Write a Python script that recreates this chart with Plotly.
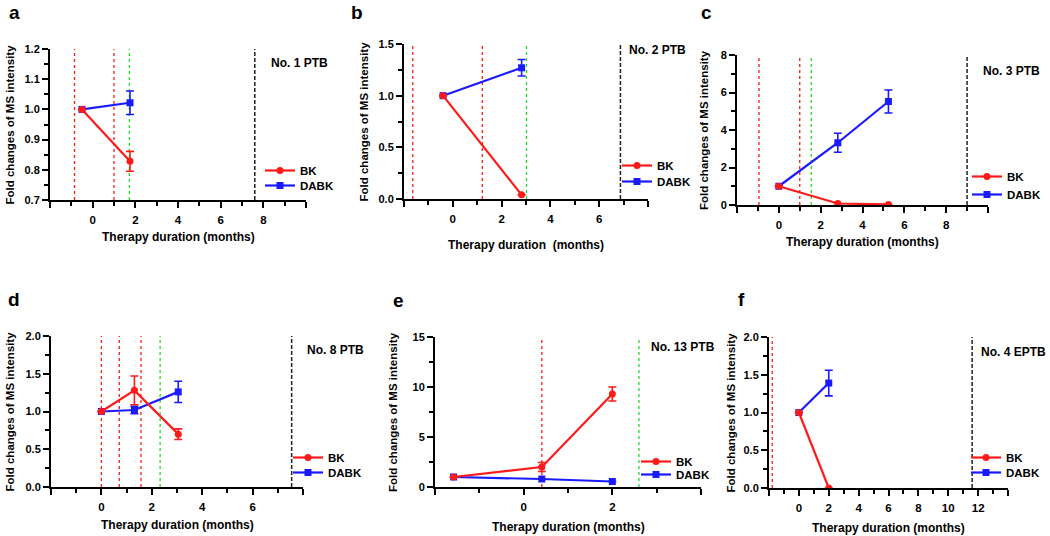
import plotly.graph_objects as go

W, H = 1050, 536

# ---------------- data ----------------
a_x = [-0.5, 1.75]
a_bk = [1.0, 0.828]
a_bk_err = [0.0, 0.033]
a_dabk = [1.0, 1.022]
a_dabk_err = [0.0, 0.039]
a_red = [-0.85, 1.0]
a_green = [1.72]
a_black = [7.6]

b_x = [-0.4, 2.82]
b_bk = [1.0, 0.04]
b_bk_err = [0.0, 0.0]
b_dabk = [1.0, 1.27]
b_dabk_err = [0.0, 0.08]
b_red = [-1.64, 1.21]
b_green = [3.02]
b_black = [6.87]

c_x = [0.0, 2.82, 5.24]
c_bk = [1.0, 0.08, 0.03]
c_bk_err = [0.0, 0.0, 0.0]
c_dabk = [1.0, 3.32, 5.52]
c_dabk_err = [0.0, 0.51, 0.61]
c_red = [-0.95, 1.0]
c_green = [1.55]
c_black = [9.0]

d_x = [0.0, 1.31, 3.05]
d_bk = [1.0, 1.28, 0.70]
d_bk_err = [0.0, 0.19, 0.07]
d_dabk = [1.0, 1.02, 1.26]
d_dabk_err = [0.0, 0.05, 0.14]
d_red = [0.0, 0.71, 1.57]
d_green = [2.33]
d_black = [7.55]

e_x = [-1.58, 0.41, 2.0]
e_bk = [1.0, 2.0, 9.3]
e_bk_err = [0.0, 0.45, 0.7]
e_dabk = [1.0, 0.8, 0.55]
e_dabk_err = [0.0, 0.0, 0.0]
e_red = [0.41]
e_green = [2.6]
e_black = []

f_x = [0.0, 2.0]
f_bk = [1.0, 0.0]
f_bk_err = [0.0, 0.0]
f_dabk = [1.0, 1.39]
f_dabk_err = [0.0, 0.17]
f_red = [-1.78]
f_green = []
f_black = [11.6]

panel_letters = ["a", "b", "c", "d", "e", "f"]
panel_names = ["No. 1 PTB", "No. 2 PTB", "No. 3 PTB", "No. 8 PTB", "No. 13 PTB", "No. 4 EPTB"]
series_names = ["BK", "DABK"]
x_ranges = [(-2, 10), (-2, 8), (-2, 10), (-2, 8), (-2, 4), (-2, 14)]
x_label_vals = [[0, 2, 4, 6, 8], [0, 2, 4, 6], [0, 2, 4, 6, 8], [0, 2, 4, 6], [0, 2],
                [0, 2, 4, 6, 8, 10, 12]]
y_ranges = [(0.7, 1.2), (0, 1.5), (0, 8), (0, 2), (0, 15), (0, 2)]
y_dticks = [0.1, 0.5, 2, 0.5, 5, 0.5]
y_formats = [".1f", ".1f", "d", ".1f", "d", ".1f"]

# ---------------- layout geometry (pixels) ----------------
# (left, right, top, bottom) of each plot area
boxes = [(50, 306, 49, 200), (404, 648, 44, 199), (737, 988, 55, 205),
         (51, 303, 336, 487), (435, 701, 337, 487), (769, 1008, 337, 488)]
letter_pos = [(14, 13), (357, 13), (706, 13), (14, 299), (398, 300), (741, 299)]
name_pos = [(299, 63), (657, 50), (1011, 71), (335, 350), (683, 347), (1013, 352)]
ytitle_x = [9, 363, 704, 9, 393, 730]
xtitle_y = [237, 245, 242, 525, 527, 528]
# text left x, BK text centre y, DABK text centre y
legend_pos = [(300, 168, 183), (657, 163, 179), (1007, 174, 192),
              (328, 455, 470), (676, 459, 472), (1006, 455, 470)]

RED = "#ff1a1a"
BLUE = "#1a1aff"
GREEN = "#22dd22"
FONT = "Liberation Sans, Arial, sans-serif"
LEG_TEXT_DX = 40   # legend x -> text start
LEG_TEXT_DY = 12   # legend top -> text centre


def px(x):
    return x / W


def py(y):
    return 1 - y / H


data = [
    (a_x, a_bk, a_bk_err, a_dabk, a_dabk_err, a_red, a_green, a_black),
    (b_x, b_bk, b_bk_err, b_dabk, b_dabk_err, b_red, b_green, b_black),
    (c_x, c_bk, c_bk_err, c_dabk, c_dabk_err, c_red, c_green, c_black),
    (d_x, d_bk, d_bk_err, d_dabk, d_dabk_err, d_red, d_green, d_black),
    (e_x, e_bk, e_bk_err, e_dabk, e_dabk_err, e_red, e_green, e_black),
    (f_x, f_bk, f_bk_err, f_dabk, f_dabk_err, f_red, f_green, f_black),
]

fig = go.Figure()
layout = dict(
    width=W, height=H, margin=dict(l=0, r=0, t=0, b=0, autoexpand=False),
    paper_bgcolor="white", plot_bgcolor="white",
    font=dict(family=FONT, color="black", size=11),
    showlegend=True,
)
shapes = []
annotations = []

for i, (xs, bk, bke, da, dae, reds, greens, blacks) in enumerate(data):
    n = i + 1
    sfx = "" if n == 1 else str(n)
    xa, ya = "x" + sfx, "y" + sfx
    l, r, t, b = boxes[i]
    x0, x1 = x_ranges[i]
    tickvals = [x0] + x_label_vals[i] + [x1]
    ticktext = [""] + [str(v) for v in x_label_vals[i]] + [""]

    layout["xaxis" + sfx] = dict(
        domain=[px(l), px(r)], anchor=ya, range=[x0, x1], automargin=False,
        showline=True, linecolor="black", linewidth=2, showgrid=False, zeroline=False,
        ticks="outside", ticklen=6, tickwidth=2, tickcolor="black",
        tickmode="array", tickvals=tickvals, ticktext=ticktext,
        tickfont=dict(family=FONT, size=11.5, color="black", weight="bold"),
        ticklabelstandoff=2,
        minor=dict(tickmode="linear", tick0=0, dtick=1, ticks="outside", ticklen=4,
                   tickwidth=2, tickcolor="black", showgrid=False),
        fixedrange=True,
    )
    y0, y1 = y_ranges[i]
    layout["yaxis" + sfx] = dict(
        domain=[py(b), py(t)], anchor=xa, range=[y0, y1], automargin=False,
        showline=True, linecolor="black", linewidth=2, showgrid=False, zeroline=False,
        ticks="outside", ticklen=6, tickwidth=2, tickcolor="black",
        tickmode="linear", tick0=y0, dtick=y_dticks[i], tickformat=y_formats[i],
        tickfont=dict(family=FONT, size=11, color="black", weight="bold"),
        minor=dict(tickmode="linear", tick0=y0, dtick=y_dticks[i] / 2, ticks="outside",
                   ticklen=4, tickwidth=2, tickcolor="black", showgrid=False),
        fixedrange=True,
    )
    tx, ybk, yda = legend_pos[i]
    leg_bk = "legend" + ("" if i == 0 else str(2 * i + 1))
    leg_da = "legend" + str(2 * i + 2)
    for leg, yc in ((leg_bk, ybk), (leg_da, yda)):
        layout[leg] = dict(
            x=px(tx - LEG_TEXT_DX), y=py(yc - LEG_TEXT_DY), xanchor="left", yanchor="top",
            bgcolor="rgba(0,0,0,0)", borderwidth=0,
            font=dict(family=FONT, size=11.5, color="black", weight="bold"),
            itemwidth=30,
        )

    # DABK drawn first so BK sits on top
    fig.add_trace(go.Scatter(
        x=xs, y=da, name=series_names[1], mode="lines+markers", xaxis=xa, yaxis=ya,
        legend=leg_da,
        line=dict(color=BLUE, width=2.2),
        marker=dict(symbol="square", size=7, color=BLUE),
        error_y=dict(type="data", array=dae, visible=True, color=BLUE, thickness=1.6, width=4),
    ))
    fig.add_trace(go.Scatter(
        x=xs, y=bk, name=series_names[0], mode="lines+markers", xaxis=xa, yaxis=ya,
        legend=leg_bk,
        line=dict(color=RED, width=2.2),
        marker=dict(symbol="circle", size=7, color=RED),
        error_y=dict(type="data", array=bke, visible=True, color=RED, thickness=1.6, width=4),
    ))

    yref = ya + " domain"
    for v in reds:
        shapes.append(dict(type="line", xref=xa, yref=yref, x0=v, x1=v, y0=0, y1=1,
                           line=dict(color=RED, width=1.3, dash="dot"), layer="below"))
    for v in greens:
        shapes.append(dict(type="line", xref=xa, yref=yref, x0=v, x1=v, y0=0, y1=1,
                           line=dict(color=GREEN, width=1.3, dash="dot"), layer="below"))
    for v in blacks:
        shapes.append(dict(type="line", xref=xa, yref=yref, x0=v, x1=v, y0=0, y1=1,
                           line=dict(color="#222222", width=1.5, dash="4px,2px"), layer="below"))

    lx, ly = letter_pos[i]
    annotations.append(dict(text=panel_letters[i], xref="paper", yref="paper",
                            x=px(lx), y=py(ly), xanchor="center", yanchor="middle",
                            showarrow=False,
                            font=dict(family=FONT, size=19, color="black", weight="bold")))
    nx, ny = name_pos[i]
    annotations.append(dict(text=panel_names[i], xref="paper", yref="paper",
                            x=px(nx), y=py(ny), xanchor="center", yanchor="middle",
                            showarrow=False,
                            font=dict(family=FONT, size=12, color="black", weight="bold")))
    annotations.append(dict(text="Fold changes of MS intensity", xref="paper", yref="paper",
                            x=px(ytitle_x[i]), y=py((t + b) / 2), xanchor="center",
                            yanchor="middle", textangle=-90, showarrow=False,
                            font=dict(family=FONT, size=11.5, color="black", weight="bold")))
    xt = "Therapy duration  (months)" if i == 1 else "Therapy duration (months)"
    annotations.append(dict(text=xt, xref="paper", yref="paper",
                            x=px((l + r) / 2), y=py(xtitle_y[i]), xanchor="center",
                            yanchor="middle", showarrow=False,
                            font=dict(family=FONT, size=12, color="black", weight="bold")))

layout["shapes"] = shapes
layout["annotations"] = annotations
fig.update_layout(**layout)
fig.write_html(
    "out.html",
    config={"displayModeBar": False},
    post_script="document.body.style.margin='0';document.body.style.padding='0';"
                "document.body.style.overflow='hidden';",
)
